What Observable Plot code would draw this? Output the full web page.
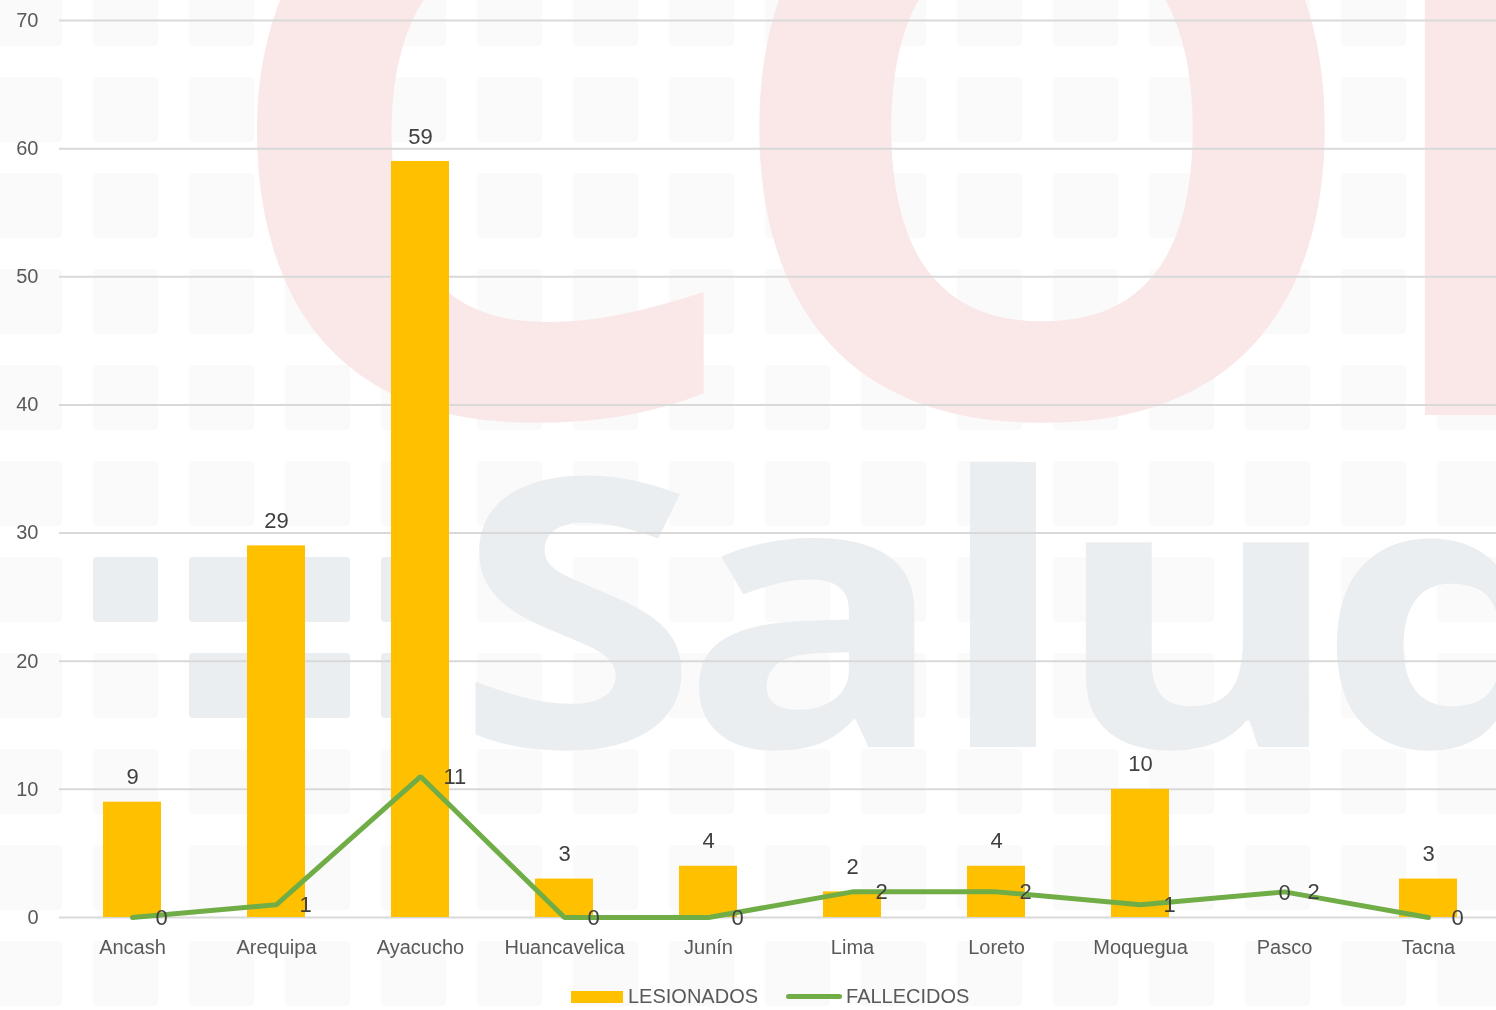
<!DOCTYPE html>
<html>
<head>
<meta charset="utf-8">
<script src="https://cdn.jsdelivr.net/npm/d3@7"></script>
<script src="https://cdn.jsdelivr.net/npm/@observablehq/plot@0.6"></script>
<style>
  html, body { margin: 0; padding: 0; background: #fff; overflow: hidden; width: 1496px; height: 1010px; }
  #wrap { position: relative; width: 1496px; height: 1010px; overflow: hidden; }
  #bg { position: absolute; left: 0; top: 0; }
  #chart { position: absolute; left: 0; top: 0; }
  #legend { position: absolute; top: 985px; left: 571px; display: flex; align-items: center;
            font-family: "Liberation Sans", Arial, sans-serif; font-size: 20px; color: #595959; }
  .sw-bar { width: 52px; height: 12px; background: #FFC000; margin-right: 5px; }
  .sw-line { width: 56px; height: 5px; border-radius: 3px; background: #70AD47; margin-right: 4px; margin-left: 28px; }
</style>
</head>
<body>
<div id="wrap">
  <canvas id="bg" width="1496" height="1010"></canvas>
  <div id="chart"></div>
  <div id="legend">
    <div class="sw-bar"></div><span>LESIONADOS</span>
    <div class="sw-line"></div><span>FALLECIDOS</span>
  </div>
</div>
<script>
const regions = ["Ancash","Arequipa","Ayacucho","Huancavelica","Junín","Lima","Loreto","Moquegua","Pasco","Tacna"];
const lesionados = [9, 29, 59, 3, 4, 2, 4, 10, 0, 3];
const fallecidos = [0, 1, 11, 0, 0, 2, 2, 1, 2, 0];
const yTicks = [0, 10, 20, 30, 40, 50, 60, 70];

// background watermark (logo image in the original)
(function drawWatermark() {
  const ctx = document.getElementById("bg").getContext("2d");
  const rr = (x, y, w, h, r, color) => {
    ctx.fillStyle = color;
    ctx.beginPath();
    ctx.moveTo(x + r, y);
    ctx.arcTo(x + w, y, x + w, y + h, r);
    ctx.arcTo(x + w, y + h, x, y + h, r);
    ctx.arcTo(x, y + h, x, y, r);
    ctx.arcTo(x, y, x + w, y, r);
    ctx.closePath();
    ctx.fill();
  };
  // faint square pattern
  for (let gx = -3; gx < 1496; gx += 96) {
    for (let gy = -19; gy < 1010; gy += 96) {
      rr(gx, gy, 65, 65, 4, "#FAFAFA");
    }
  }
  // darker squares of the logo
  [[93, 557], [189, 557], [285, 557], [381, 557], [189, 653], [285, 653], [381, 653]]
    .forEach(([x, y]) => rr(x, y, 65, 65, 4, "#EBEEF0"));

  ctx.textAlign = "center";
  ctx.textBaseline = "alphabetic";
  const put = (ch, cx, by, size, sx, color) => {
    ctx.save();
    ctx.translate(cx, by);
    ctx.scale(sx, 1);
    ctx.font = `700 ${size}px 'Open Sans', sans-serif`;
    ctx.fillStyle = color;
    ctx.fillText(ch, 0, 0);
    ctx.restore();
  };
  const pink = "#FAE8E9", grey = "#EBEEF0";
  put("C", 482, 415, 800, 1.08, pink);
  put("O", 1042, 415, 800, 1.04, pink);
  put("E", 1577, 415, 800, 1.0, pink);
  put("S", 577, 747, 375, 1.18, grey);
  put("a", 814, 747, 375, 1.18, grey);
  put("l", 1003, 747, 375, 1.18, grey);
  put("u", 1198, 747, 375, 1.18, grey);
  put("d", 1457, 747, 375, 1.18, grey);
})();

const data = regions.map((r, i) => ({region: r, les: lesionados[i], fal: fallecidos[i]}));
const labelFont = "'Liberation Sans Narrow', 'Arial Narrow', 'Liberation Sans', sans-serif";

const chart = Plot.plot({
  width: 1496,
  height: 975,
  marginTop: 20,
  marginBottom: 58,
  marginLeft: 59,
  marginRight: -4,
  style: {fontFamily: "'Liberation Sans', Arial, sans-serif", fontSize: "20px", color: "#595959", background: "transparent"},
  x: {domain: regions, paddingInner: 0.6, paddingOuter: 0.3, label: null},
  y: {domain: [0, 70], label: null},
  marks: [
    Plot.ruleY(yTicks, {stroke: "#D9D9D9", strokeWidth: 2}),
    Plot.axisY({ticks: yTicks, tickSize: 0, tickPadding: 21, label: null, fontSize: 20}),
    Plot.axisX({tickSize: 0, tickPadding: 22, label: null, fontSize: 20}),
    Plot.barY(data, {x: "region", y: "les", fill: "#FFC000"}),
    Plot.lineY(data, {x: "region", y: "fal", stroke: "#70AD47", strokeWidth: 5, strokeLinecap: "round", strokeLinejoin: "miter"}),
    Plot.text(data, {x: "region", y: "les", text: d => String(d.les), dy: -25, fill: "#404040", fontSize: 22, fontFamily: labelFont}),
    Plot.text(data, {x: "region", y: "fal", text: d => String(d.fal), dx: 23, textAnchor: "start", fill: "#404040", fontSize: 22, fontFamily: labelFont})
  ]
});
document.getElementById("chart").appendChild(chart);
</script>
</body>
</html>
